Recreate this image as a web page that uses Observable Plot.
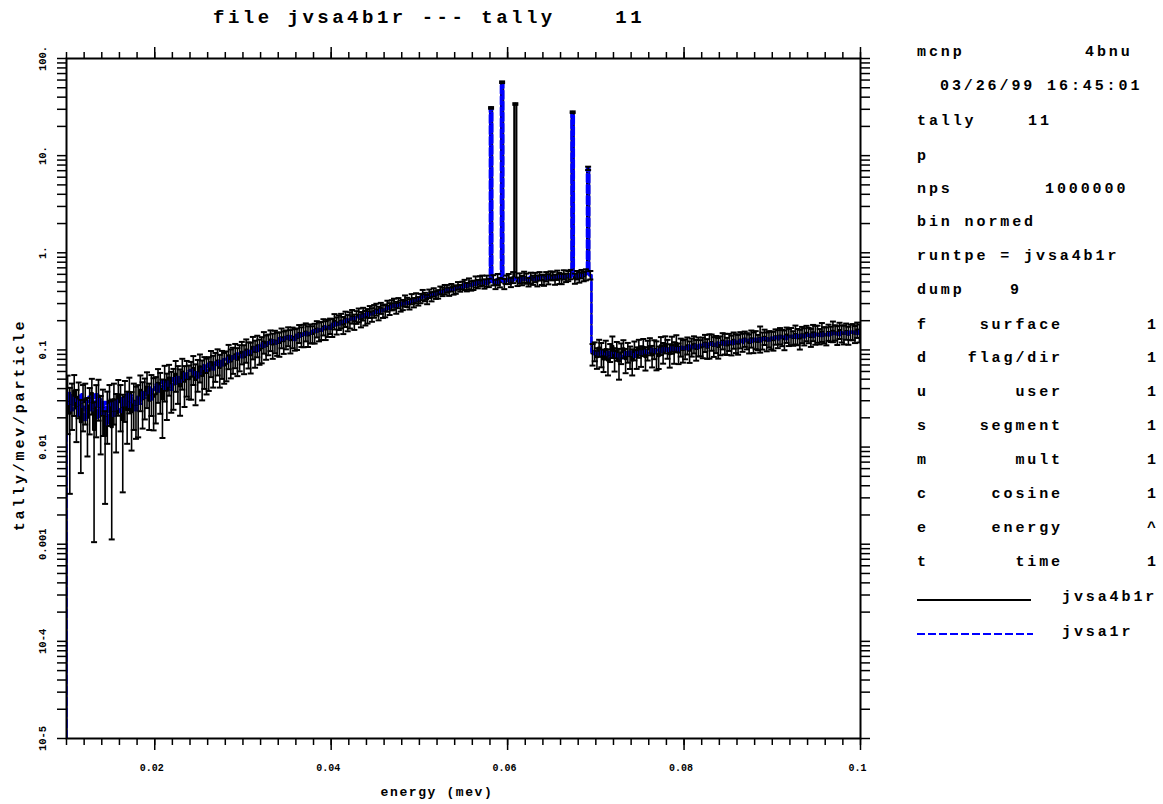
<!DOCTYPE html>
<html><head><meta charset="utf-8">
<script src="https://cdn.jsdelivr.net/npm/d3@7"></script>
<script src="https://cdn.jsdelivr.net/npm/@observablehq/plot@0.6"></script>
<style>
html,body{margin:0;padding:0;background:#fff;overflow:hidden}
#wrap{position:relative;width:1163px;height:804px;overflow:hidden;font-family:"Liberation Mono","DejaVu Sans Mono",monospace;color:#000}
.t{position:absolute;white-space:pre;transform:translateY(-50%);line-height:1;font-weight:bold}
</style></head><body><div id="wrap"></div>
<script>
// ---- data ----
// energy bins: each keV row holds 4 bins of 0.25 keV (lower edge = keV + sub-edge)
const keVStart = [10,11,12,13,14,15,16,17,18,19,20,21,22,23,24,25,26,27,28,29,
30,31,32,33,34,35,36,37,38,39,40,41,42,43,44,45,46,47,48,49,
50,51,52,53,54,55,56,57,58,59,60,61,62,63,64,65,66,67,68,69,
70,71,72,73,74,75,76,77,78,79,80,81,82,83,84,85,86,87,88,89,
90,91,92,93,94,95,96,97,98,99];
const subEdges = [0, 0.25, 0.5, 0.75];
const lastEdgeKeV = 100;

// jvsa4b1r (black) tally/mev/particle, in units of 1e-3
const tallyA = [
[34,22,30,38],[25,33,18,29],[31,20,27,36],[15,28,34,21],[26,13,24,30],
[16,31,22,35],[29,19,33,24],[37,23,30,27],[28,39,31,35],[42,30,38,33],
[35,46,40,31],[49,38,52,41],[44,57,48,42],[60,47,55,50],[53,65,49,58],
[68,54,62,58],[61,75,64,70],[78,65,74,69],[72,88,76,81],[90,79,86,96],
[84,101,92,88],[108,95,112,99],[104,122,110,116],[128,114,125,119],[118,135,123,130],
[140,126,137,131],[133,149,139,144],[155,141,150,146],[151,166,157,160],[174,162,170,178],
[172,198,180,193],[201,182,210,192],[205,222,196,218],[230,208,236,215],[225,248,232,252],
[262,240,270,251],[255,284,266,290],[298,274,305,285],[292,322,310,296],[335,308,342,318],
[340,370,352,332],[380,355,392,368],[375,412,398,420],[428,400,438,412],[420,458,432,462],
[470,445,482,458],[465,505,478,512],[520,480,515,492],[31000,525,475,535],[495,57000,480,530],
[540,498,560,34000],[505,548,520,565],[545,500,552,525],[560,518,575,530],[525,570,538,585],
[578,532,590,548],[540,595,555,580],[600,28000,545,590],[560,605,572,598],[7400,590,92,98],
[84,106,92,80],[102,78,95,110],[82,99,76,94],[104,80,96,86],[78,100,85,105],
[88,108,84,101],[110,88,103,92],[86,112,95,115],[104,90,114,96],[118,94,108,100],
[104,112,98,108],[115,102,110,106],[108,119,105,113],[121,110,116,107],[113,125,118,111],
[122,114,127,119],[116,128,121,131],[125,118,132,122],[129,121,134,126],[137,124,131,128],
[126,138,132,141],[135,129,144,137],[140,133,146,138],[131,145,139,150],[143,136,152,145],
[148,139,155,144],[141,153,147,158],[152,144,160,149],[146,157,143,154],[155,147,162,151]];

// relative error of jvsa4b1r, percent
const relErrA = [
[60,85,50,45],[55,40,70,50],[45,60,50,40],[93,55,45,60],[50,80,55,45],
[93,45,60,40],[50,82,45,55],[40,60,50,55],[55,40,50,45],[40,50,45,55],
[50,38,45,60],[40,50,35,45],[45,35,42,50],[35,45,40,38],[42,33,45,36],
[32,44,36,40],[38,30,36,33],[30,37,32,35],[34,28,33,30],[28,32,30,26],
[33,27,30,35],[26,31,25,29],[30,25,28,24],[24,29,26,27],[28,23,26,22],
[22,27,24,25],[25,21,23,26],[21,24,22,20],[23,19,22,21],[19,22,20,18],
[21,18,20,17],[17,20,18,19],[19,16,18,15],[16,18,15,17],[17,14,16,15],
[14,16,13,15],[15,13,14,12],[13,14,12,13],[12,13,11,12],[12,11,12,10],
[11,12,10,11],[10,11,10,9],[10,9,10,11],[9,10,9,10],[10,9,8,9],
[12,10,13,11],[11,13,10,12],[12,11,13,10],[2,12,11,13],[11,2,12,10],
[12,11,13,2],[10,12,11,13],[12,10,13,11],[11,13,10,12],[13,11,12,10],
[10,12,11,13],[12,11,10,12],[11,2,12,10],[12,10,11,13],[4,10,25,22],
[24,20,28,26],[22,30,21,25],[27,22,35,24],[21,28,23,26],[30,22,25,21],
[24,20,27,23],[20,25,22,33],[26,21,24,20],[22,27,20,25],[20,24,21,26],
[23,20,25,21],[20,24,22,19],[24,20,23,28],[19,23,20,24],[22,19,24,20],
[20,23,19,22],[23,19,21,18],[19,22,20,24],[21,18,30,20],[18,22,19,21],
[22,18,21,19],[19,23,18,20],[20,17,22,19],[23,19,20,18],[18,21,19,22],
[20,18,22,19],[21,19,18,24],[18,22,19,20],[22,19,21,18],[19,20,18,21]];

// jvsa1r (blue dashed) tally/mev/particle, in units of 1e-3
const tallyB = [
[28,36,24,32],[30,21,35,26],[19,29,33,24],[27,35,20,31],[22,29,17,27],
[28,21,30,25],[23,32,27,36],[26,34,29,24],[33,28,37,32],[36,41,31,39],
[44,37,42,48],[40,47,43,39],[51,45,53,47],[49,57,52,61],[62,55,59,52],
[57,64,70,61],[72,66,63,74],[70,77,68,80],[83,75,79,86],[81,92,88,84],
[95,89,98,93],[100,106,97,110],[117,108,113,120],[118,126,121,116],[132,125,128,136],
[129,138,134,127],[146,137,142,148],[143,152,148,156],[161,154,163,158],[167,175,171,165],
[186,179,190,183],[192,201,195,205],[203,212,208,216],[216,225,220,231],[238,227,233,240],
[252,245,258,250],[262,272,267,279],[290,280,288,294],[306,299,310,302],[318,328,321,333],
[350,344,358,352],[374,368,380,372],[396,388,399,408],[418,412,424,417],[440,434,446,438],
[475,450,488,462],[495,470,508,482],[488,515,478,520],[31000,498,530,488],[520,57000,505,540],
[512,550,520,545],[535,505,560,528],[548,520,565,530],[522,560,540,575],[570,535,582,548],
[545,585,560,575],[588,552,575,600],[565,28000,592,555],[598,568,590,610],[7400,586,96,90],
[93,87,97,91],[89,95,84,93],[92,86,90,82],[87,94,89,96],[90,85,94,91],
[96,91,98,93],[97,102,94,99],[101,95,104,98],[103,98,106,100],[104,99,108,103],
[107,102,110,104],[108,112,105,113],[111,115,108,116],[113,118,111,119],[117,120,113,122],
[118,123,116,125],[121,126,118,128],[123,127,121,130],[126,130,123,132],[128,132,125,134],
[131,135,128,137],[133,137,130,139],[136,140,133,142],[137,142,135,144],[140,144,137,146],
[142,146,139,148],[144,148,141,150],[146,150,143,152],[148,152,145,154],[150,154,147,156]];

const xMajorTicks = [0.02, 0.04, 0.06, 0.08, 0.1];
const xMajorLabels = ["0.02", "0.04", "0.06", "0.08", "0.1"];
const yMajorTicks = [1e-5, 1e-4, 1e-3, 1e-2, 1e-1, 1, 10, 100];
const yMajorLabels = ["10-5", "10-4", "0.001", "0.01", "0.1", "1.", "10.", "100."];

const titleText = "file jvsa4b1r --- tally    11";
const xTitle = "energy (mev)";
const yTitle = "tally/mev/particle";
const seriesNames = ["jvsa4b1r", "jvsa1r"];

// ---- build ----
const FONT = '"Liberation Mono","DejaVu Sans Mono",monospace';
const xMinorTicks = d3.range(0, 46).map(i => +(0.01 + i * 0.002).toFixed(4));
const yMinorTicks = d3.merge(d3.range(-5, 2).map(p => d3.range(1, 10).map(k => k * Math.pow(10, p)))).concat([100]);

const rows = [];
keVStart.forEach((k, i) => subEdges.forEach((s, j) => rows.push({
  lo: (k + s) / 1000, c: (k + s + 0.125) / 1000,
  a: tallyA[i][j] / 1000, b: tallyB[i][j] / 1000, r: relErrA[i][j] / 100
})));
const endX = lastEdgeKeV / 1000;
const lastRow = rows[rows.length - 1];
const lineA = [{x: 0.01, y: 1e-5}, ...rows.map(d => ({x: d.lo, y: d.a})), {x: endX, y: lastRow.a}];
const lineB = [{x: 0.01, y: 1e-5}, ...rows.map(d => ({x: d.lo, y: d.b})), {x: endX, y: lastRow.b}];
const caps = rows.flatMap(d => [{x: d.c, y: d.a * (1 - d.r)}, {x: d.c, y: d.a * (1 + d.r)}]);
const capSymbol = {draw(ctx, size) { const w = Math.sqrt(size / Math.PI); ctx.moveTo(-w, 0); ctx.lineTo(w, 0); }};

const blank = () => "";
const chart = Plot.plot({
  width: 1163, height: 804,
  marginLeft: 66, marginRight: 303, marginTop: 58, marginBottom: 66,
  x: {domain: [0.01, 0.1]},
  y: {type: "log", domain: [1e-5, 100]},
  style: {fontFamily: FONT, background: "white", color: "black"},
  marks: [
    Plot.line(lineA, {x: "x", y: "y", curve: "step-after", stroke: "black", strokeWidth: 2, clip: true}),
    Plot.line(lineB, {x: "x", y: "y", curve: "step-after", stroke: "#0000ff", strokeWidth: 2.6, strokeDasharray: "8,3", clip: true}),
    Plot.ruleX(rows, {x: "c", y1: d => d.a * (1 - d.r), y2: d => d.a * (1 + d.r), stroke: "black", strokeWidth: 1.6, clip: true}),
    Plot.dot(caps, {x: "x", y: "y", symbol: capSymbol, r: 3, stroke: "black", strokeWidth: 2, fill: "none", clip: true}),
    Plot.frame({stroke: "black", strokeWidth: 2}),
    Plot.axisX({anchor: "bottom", ticks: xMinorTicks, tickSize: 7, tickFormat: blank, label: null, strokeWidth: 1.5}),
    Plot.axisX({anchor: "bottom", ticks: xMajorTicks, tickSize: 12, tickFormat: blank, label: null, strokeWidth: 1.5}),
    Plot.axisX({anchor: "top", ticks: xMinorTicks, tickSize: 7, tickFormat: blank, label: null, strokeWidth: 1.5}),
    Plot.axisX({anchor: "top", ticks: xMajorTicks, tickSize: 12, tickFormat: blank, label: null, strokeWidth: 1.5}),
    Plot.axisY({anchor: "left", ticks: yMinorTicks, tickSize: 9, tickFormat: blank, label: null, strokeWidth: 1.5}),
    Plot.axisY({anchor: "right", ticks: yMinorTicks, tickSize: 9, tickFormat: blank, label: null, strokeWidth: 1.5}),
    Plot.text(xMajorTicks, {x: d => d, text: (d, i) => xMajorLabels[i], frameAnchor: "bottom", dy: 32, dx: -3,
      fontSize: 10, fontWeight: "bold", fill: "black", textAnchor: "middle"}),
    Plot.text(yMajorTicks, {y: d => d, text: (d, i) => yMajorLabels[i], frameAnchor: "left", dx: -24, rotate: -90,
      fontSize: 10.5, fontWeight: "bold", fill: "black", textAnchor: "middle"})
  ]
});
chart.style.position = "absolute"; chart.style.left = "0px"; chart.style.top = "0px";
const wrap = document.getElementById("wrap");
wrap.appendChild(chart);

function addText(txt, x, y, o = {}) {
  const d = document.createElement("div");
  d.className = "t";
  d.textContent = txt;
  if (o.right != null) d.style.right = (1163 - o.right) + "px"; else d.style.left = x + "px";
  d.style.top = y + "px";
  d.style.fontSize = (o.size || 15) + "px";
  d.style.letterSpacing = (o.ls != null ? o.ls : 2.9) + "px";
  if (o.transform) d.style.transform = o.transform;
  wrap.appendChild(d);
  return d;
}
addText(titleText, 213, 18, {size: 19, ls: 3.5});
addText(xTitle, 437, 792, {size: 13, ls: 1.6, transform: "translate(-50%,-50%)"});
addText(yTitle, 20, 425, {size: 15, ls: 2.8, transform: "translate(-50%,-50%) rotate(-90deg)"});

const panelTop = [["mcnp", 917, 52], ["4bnu", 1085, 52], ["03/26/99 16:45:01", 940, 86],
  ["tally", 917, 121], ["11", 1028, 121], ["p", 917, 156], ["nps", 917, 189], ["1000000", 1045, 189],
  ["bin normed", 917, 222], ["runtpe = jvsa4b1r", 917, 256], ["dump", 917, 290], ["9", 1010, 290]];
panelTop.forEach(([t, x, y]) => addText(t, x, y));
const dimLetters = ["f", "d", "u", "s", "m", "c", "e", "t"];
const dimNames = ["surface", "flag/dir", "user", "segment", "mult", "cosine", "energy", "time"];
const dimCounts = ["1", "1", "1", "1", "1", "1", "^", "1"];
const dimY = [325, 358, 392, 426, 460, 494, 528, 562];
dimLetters.forEach((l, i) => {
  addText(l, 917, dimY[i]);
  addText(dimNames[i], 0, dimY[i], {right: 1063});
  addText(dimCounts[i], 1147, dimY[i]);
});
// legend
const leg = document.createElementNS("http://www.w3.org/2000/svg", "svg");
leg.setAttribute("width", 1163); leg.setAttribute("height", 804);
leg.style.position = "absolute"; leg.style.left = "0"; leg.style.top = "0";
leg.innerHTML = '<line x1="917" y1="600" x2="1031" y2="600" stroke="black" stroke-width="2"/>' +
  '<line x1="917" y1="634" x2="1033" y2="634" stroke="#0000ff" stroke-width="2" stroke-dasharray="8,3"/>';
wrap.appendChild(leg);
addText(seriesNames[0], 1062, 597);
addText(seriesNames[1], 1062, 632);
</script></body></html>
